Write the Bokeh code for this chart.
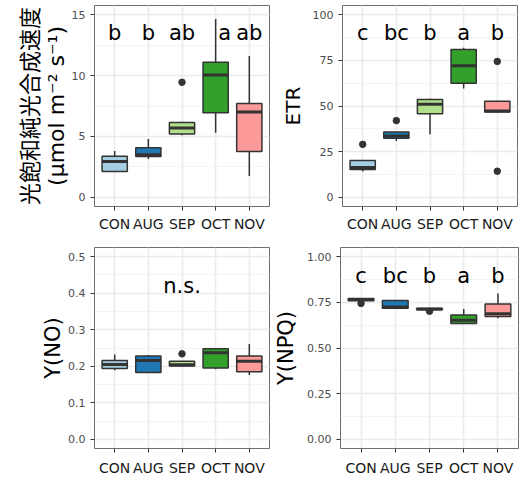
import numpy as np
from bokeh.plotting import figure
from bokeh.layouts import column, row
from bokeh.models import (Range1d, FixedTicker, NumeralTickFormatter,
                          ColumnDataSource, LinearAxis, Spacer)
from bokeh.core.properties import value
from bokeh.embed import file_html
from bokeh.resources import INLINE

# ---------------- data ----------------
months = ["CON", "AUG", "SEP", "OCT", "NOV"]
colors = ["#A6CEE3", "#1F78B4", "#B2DF8A", "#33A02C", "#FB9A99"]

# Light-saturated net photosynthetic rate
pn_lo  = [2.10, 3.15, 5.10, 5.30, 1.75]
pn_q1  = [2.12, 3.35, 5.20, 6.95, 3.77]
pn_med = [2.95, 3.50, 5.70, 10.05, 7.00]
pn_q3  = [3.38, 4.08, 6.15, 11.10, 7.70]
pn_hi  = [3.80, 4.80, 6.20, 14.65, 11.60]
pn_out_month = ["SEP"]
pn_out_val   = [9.45]
pn_letters   = ["b", "b", "ab", "a", "ab"]

# ETR
etr_lo  = [14.2, 30.9, 34.6, 59.6, 46.7]
etr_q1  = [15.2, 32.4, 45.7, 62.4, 46.7]
etr_med = [16.3, 33.6, 51.0, 72.0, 47.3]
etr_q3  = [20.2, 35.8, 53.5, 80.9, 52.6]
etr_hi  = [20.2, 35.8, 54.0, 81.9, 52.6]
etr_out_month = ["CON", "AUG", "NOV", "NOV"]
etr_out_val   = [29.0, 42.0, 74.4, 14.3]
etr_letters   = ["c", "bc", "b", "a", "b"]

# Y(NO)
yno_lo  = [0.189, 0.183, 0.200, 0.192, 0.176]
yno_q1  = [0.194, 0.183, 0.201, 0.195, 0.185]
yno_med = [0.205, 0.216, 0.204, 0.237, 0.214]
yno_q3  = [0.216, 0.228, 0.214, 0.248, 0.228]
yno_hi  = [0.232, 0.231, 0.214, 0.248, 0.261]
yno_out_month = ["SEP"]
yno_out_val   = [0.234]
yno_letters   = ["n.s."]

# Y(NPQ)
ynpq_lo  = [0.757, 0.717, 0.708, 0.632, 0.663]
ynpq_q1  = [0.758, 0.717, 0.709, 0.634, 0.672]
ynpq_med = [0.765, 0.724, 0.713, 0.652, 0.688]
ynpq_q3  = [0.771, 0.760, 0.716, 0.681, 0.741]
ynpq_hi  = [0.772, 0.760, 0.716, 0.713, 0.798]
ynpq_out_month = ["CON", "SEP"]
ynpq_out_val   = [0.744, 0.701]
ynpq_letters   = ["c", "bc", "b", "a", "b"]

# axis titles
pn_title_1 = "光飽和純光合成速度"
pn_title_2 = "(µmol m\u207b\u00b2 s\u207b\u00b9)"
etr_title = "ETR"
yno_title = "Y(NO)"
ynpq_title = "Y(NPQ)"

# ---------------- styling ----------------
DARK = "#333333"
BOX_W = 0.75


def make_panel(lo, q1, med, q3, hi, out_m, out_v, letters, letter_x, letter_dx,
               letter_y, title, title_standoff, title_size,
               ylim, ticks, minor, fmt, width, height,
               mb_left, mb_right, mb_top, mb_bottom, x_standoff=5,
               title_font="DejaVu Sans"):
    p = figure(width=width, height=height, output_backend="svg",
               toolbar_location=None, tools="",
               x_range=Range1d(0.4, 5.6), y_range=Range1d(*ylim),
               min_border_left=mb_left, min_border_right=mb_right,
               min_border_top=mb_top, min_border_bottom=mb_bottom)
    p.background_fill_color = "white"
    p.border_fill_color = "white"
    p.outline_line_color = "#6E6E6E"
    p.outline_line_width = 1

    pos = np.arange(1, len(months) + 1)

    # axes
    p.xaxis.ticker = FixedTicker(ticks=list(pos))
    p.xaxis.major_label_overrides = {int(i): m for i, m in zip(pos, months)}
    p.yaxis.ticker = FixedTicker(ticks=ticks, minor_ticks=minor)
    p.yaxis.formatter = NumeralTickFormatter(format=fmt)
    for ax in (p.xaxis[0], p.yaxis[0]):
        ax.axis_line_color = None
        ax.major_tick_line_color = DARK
        ax.major_tick_line_width = 1
        ax.major_tick_out = 4
        ax.major_tick_in = 0
        ax.minor_tick_line_color = None
        ax.major_label_text_font = "DejaVu Sans"
    p.xaxis.major_label_text_font_size = "14px"
    p.xaxis.major_label_text_color = "#1A1A1A"
    p.xaxis.major_label_standoff = x_standoff
    p.yaxis.major_label_text_font_size = "11px"
    p.yaxis.major_label_text_color = "#4D4D4D"
    p.yaxis.major_label_standoff = 5
    p.yaxis.axis_label = title
    p.yaxis.axis_label_text_font = title_font
    p.yaxis.axis_label_text_font_size = title_size
    p.yaxis.axis_label_text_font_style = "normal"
    p.yaxis.axis_label_text_color = "#000000"
    p.yaxis.axis_label_standoff = title_standoff

    # grid (theme_bw look)
    p.xgrid.grid_line_color = "#EBEBEB"
    p.xgrid.grid_line_width = 1.6
    p.ygrid.grid_line_color = "#EBEBEB"
    p.ygrid.grid_line_width = 1.6
    p.ygrid.minor_grid_line_color = "#F2F2F2"
    p.ygrid.minor_grid_line_width = 0.9

    src = ColumnDataSource(dict(x=pos, lo=lo, q1=q1, med=med, q3=q3, hi=hi,
                                color=colors,
                                x0=pos - BOX_W / 2, x1=pos + BOX_W / 2))
    # whiskers
    p.segment(x0="x", y0="lo", x1="x", y1="q1", source=src,
              line_color=DARK, line_width=1.5)
    p.segment(x0="x", y0="q3", x1="x", y1="hi", source=src,
              line_color=DARK, line_width=1.5)
    # boxes
    p.vbar(x="x", width=BOX_W, bottom="q1", top="q3", source=src,
           fill_color="color", line_color=DARK, line_width=1.5)
    # medians
    p.segment(x0="x0", y0="med", x1="x1", y1="med", source=src,
              line_color=DARK, line_width=3)
    # outliers
    ox = [months.index(m) + 1 for m in out_m]
    p.scatter(ox, out_v, size=6.5, fill_color=DARK, line_color=DARK)

    # significance letters
    lsrc = ColumnDataSource(dict(x=letter_x, y=[letter_y] * len(letters),
                                 t=letters, dx=letter_dx))
    p.text(x="x", y="y", text="t", x_offset="dx", source=lsrc,
           text_font=value("DejaVu Sans"), text_font_size="21px",
           text_align="center", text_baseline="alphabetic",
           text_color="#000000")
    return p


H1, H2 = 234, 244
S1, S2 = 8, 25            # left spacers of the two rows
W1, W2 = 269, 245         # top row widths
W3, W4 = 245, 252         # bottom row widths

p1 = make_panel(pn_lo, pn_q1, pn_med, pn_q3, pn_hi, pn_out_month, pn_out_val,
                pn_letters, [1, 2, 3, 4, 5], [0, 0, 0, 9, 0], 13.5,
                pn_title_2, 0, "22px",
                (-0.75, 15.75), [0, 5, 10, 15], [2.5, 7.5, 12.5], "0",
                W1, H1, 86, 8, 5, 27)
# first line of the two-line title as an outer, tick-less axis
extra = LinearAxis(ticker=FixedTicker(ticks=[]), axis_line_color=None,
                   major_tick_line_color=None, minor_tick_line_color=None,
                   major_tick_out=0, major_label_standoff=0,
                   axis_label=pn_title_1, axis_label_standoff=-3,
                   axis_label_text_font="Noto Sans CJK JP",
                   axis_label_text_font_size="22px",
                   axis_label_text_font_style="normal",
                   axis_label_text_color="#000000")
p1.add_layout(extra, "left")

p2 = make_panel(etr_lo, etr_q1, etr_med, etr_q3, etr_hi, etr_out_month,
                etr_out_val, etr_letters, [1, 2, 3, 4, 5], [0, 0, 0, 0, 0],
                90.2, etr_title, 5, "20px",
                (-5, 105), [0, 25, 50, 75, 100],
                [12.5, 37.5, 62.5, 87.5], "0",
                W2, H1, 62, 5, 5, 27)
p3 = make_panel(yno_lo, yno_q1, yno_med, yno_q3, yno_hi, yno_out_month,
                yno_out_val, yno_letters, [3], [0], 0.42,
                yno_title, 0, "21px",
                (-0.025, 0.525), [0, 0.1, 0.2, 0.3, 0.4, 0.5],
                [0.05, 0.15, 0.25, 0.35, 0.45], "0.0",
                W3, H2, 69, 1, 13, 28, x_standoff=7)
p4 = make_panel(ynpq_lo, ynpq_q1, ynpq_med, ynpq_q3, ynpq_hi, ynpq_out_month,
                ynpq_out_val, ynpq_letters, [1, 2, 3, 4, 5], [0, 0, 0, 0, 0],
                0.894, ynpq_title, 6, "21px",
                (-0.05, 1.05), [0, 0.25, 0.5, 0.75, 1.0],
                [0.125, 0.375, 0.625, 0.875], "0.00",
                W4, H2, 70, 4, 13, 28, x_standoff=7)

layout = column(row(Spacer(width=S1, height=H1), p1, p2),
                row(Spacer(width=S2, height=H2), p3, p4))

with open("out.html", "w") as f:
    f.write(file_html(layout, INLINE))
